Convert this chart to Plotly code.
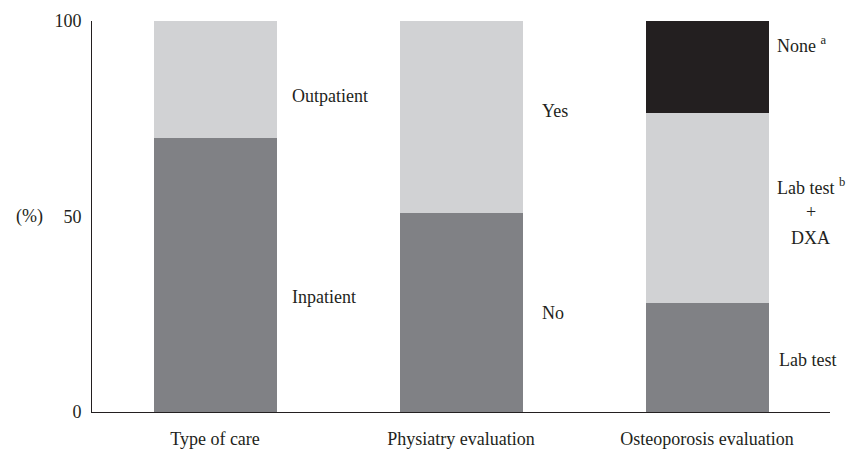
import plotly.graph_objects as go

categories = ["Type of care", "Physiatry evaluation", "Osteoporosis evaluation"]
# bottom segment (dark gray)
bottom_vals = [70, 51, 28]
bottom_names = ["Inpatient", "No", "Lab test"]
# middle segment (light gray)
middle_vals = [30, 49, 48.5]
middle_names = ["Outpatient", "Yes", "Lab test<sup>b</sup>"]
# top segment (black), only osteoporosis
top_vals = [0, 0, 23.5]
top_names = ["", "", "None<sup>a</sup>"]

y_ticks = [0, 50, 100]

DARK = "#808185"
LIGHT = "#d1d2d4"
BLACK = "#231f20"
FONT = "Liberation Serif"
FS = 18

x = list(range(len(categories)))

fig = go.Figure()
fig.add_trace(go.Bar(x=x, y=bottom_vals, marker=dict(color=DARK, line=dict(width=0)), width=0.5, hoverinfo="skip"))
fig.add_trace(go.Bar(x=x, y=middle_vals, marker=dict(color=LIGHT, line=dict(width=0)), width=0.5, hoverinfo="skip"))
fig.add_trace(go.Bar(x=x, y=top_vals, marker=dict(color=BLACK, line=dict(width=0)), width=0.5, hoverinfo="skip"))

# segment labels (positions in data units)
labels = [
    (0, 80.8, "Outpatient", 13),
    (0, 29.5, "Inpatient", 13),
    (1, 77.0, "Yes", 17),
    (1, 25.4, "No", 17),
    (2, 94.1, "None <sup>a</sup>", 6),
    (2, 13.2, "Lab test", 8),
]
annotations = []
for xi, yi, txt, xs in labels:
    annotations.append(dict(x=xi + 0.25, y=yi, xref="x", yref="y", text=txt, showarrow=False,
                            xanchor="left", yanchor="middle", xshift=xs,
                            font=dict(family=FONT, size=FS, color="#231f20")))
# centered multi-line label
for yi, txt in [(57.8, "Lab test <sup>b</sup>"), (51.2, "+"), (44.6, "DXA")]:
    annotations.append(dict(x=2.25, y=yi, xref="x", yref="y", text=txt, showarrow=False,
                            xanchor="center", yanchor="middle", xshift=42,
                            font=dict(family=FONT, size=FS, color="#231f20")))
annotations.append(dict(x=0, y=50, xref="paper", yref="y", text="(%)", showarrow=False,
                        xanchor="right", yanchor="middle", xshift=-47,
                        font=dict(family=FONT, size=FS, color="#231f20")))

fig.update_layout(
    barmode="stack",
    width=857, height=453,
    margin=dict(l=92, r=27, t=21, b=41),
    plot_bgcolor="white", paper_bgcolor="white",
    showlegend=False,
    annotations=annotations,
    font=dict(family=FONT, size=FS, color="#231f20"),
)
fig.update_xaxes(
    tickmode="array", tickvals=x, ticktext=categories,
    range=[-0.5, 2.5], showline=True, linecolor="#231f20", linewidth=1,
    ticks="", showgrid=False, zeroline=False, ticklabelstandoff=10, automargin=False,
    tickfont=dict(family=FONT, size=FS, color="#231f20"),
)
fig.update_yaxes(
    tickmode="array", tickvals=y_ticks, range=[0, 100],
    showline=True, linecolor="#231f20", linewidth=1,
    ticks="", showgrid=False, zeroline=False, ticklabelstandoff=6, automargin=False,
    tickfont=dict(family=FONT, size=FS, color="#231f20"),
)

fig.write_html("out.html", config={"displayModeBar": False},
               post_script="document.body.style.margin='0';document.body.style.padding='0';")
